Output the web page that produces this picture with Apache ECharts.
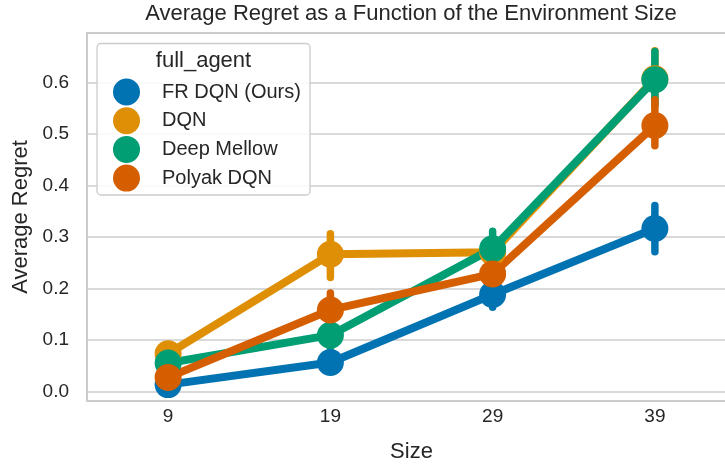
<!DOCTYPE html>
<html>
<head>
<meta charset="utf-8">
<script src="https://cdn.jsdelivr.net/npm/echarts@6/dist/echarts.min.js"></script>
<style>
  html, body { margin: 0; padding: 0; background: #ffffff; overflow: hidden; width: 725px; height: 468px; }
  #chart { width: 745px; height: 468px; }
</style>
</head>
<body>
<div id="chart"></div>
<script>
// ---- data ----
const categories = ['9', '19', '29', '39'];
const agents = ['FR DQN (Ours)', 'DQN', 'Deep Mellow', 'Polyak DQN'];
const legendTitle = 'full_agent';

const frDqnMean  = [0.013, 0.056, 0.188, 0.316];
const frDqnLow   = [0.008, 0.050, 0.163, 0.271];
const frDqnHigh  = [0.019, 0.062, 0.210, 0.361];

const dqnMean    = [0.073, 0.266, 0.270, 0.607];
const dqnLow     = [0.066, 0.221, 0.250, 0.555];
const dqnHigh    = [0.080, 0.306, 0.288, 0.661];

const mellowMean = [0.055, 0.109, 0.277, 0.605];
const mellowLow  = [0.048, 0.076, 0.243, 0.556];
const mellowHigh = [0.062, 0.143, 0.311, 0.660];

const polyakMean = [0.027, 0.158, 0.228, 0.516];
const polyakLow  = [0.020, 0.125, 0.210, 0.477];
const polyakHigh = [0.034, 0.191, 0.247, 0.566];

const yMin = -0.0188;
const yMax = 0.6957;

// ---- styling ----
const colors = ['#0173b2', '#de8f05', '#029e73', '#d55e00'];
const FONT = '"Liberation Sans", Arial, Helvetica, sans-serif';
const TEXT = '#262626';
const GRIDC = '#cccccc';

const means = [frDqnMean, dqnMean, mellowMean, polyakMean];
const lows = [frDqnLow, dqnLow, mellowLow, polyakLow];
const highs = [frDqnHigh, dqnHigh, mellowHigh, polyakHigh];

const series = [];
agents.forEach((name, j) => {
  series.push({
    name: name,
    type: 'line',
    data: means[j],
    symbol: 'none',
    lineStyle: { color: colors[j], width: 8, cap: 'round', join: 'round' },
    itemStyle: { color: colors[j] },
    z: 2,
    silent: true
  });
});
agents.forEach((name, j) => {
  const color = colors[j];
  series.push({
    name: name,
    type: 'custom',
    data: categories.map((c, i) => [i, lows[j][i], highs[j][i]]),
    encode: { x: 0, y: [1, 2] },
    renderItem: function (params, api) {
      const p1 = api.coord([api.value(0), api.value(1)]);
      const p2 = api.coord([api.value(0), api.value(2)]);
      return {
        type: 'line',
        shape: { x1: p1[0], y1: p1[1], x2: p2[0], y2: p2[1] },
        style: { stroke: color, lineWidth: 7.5, lineCap: 'round' }
      };
    },
    z: 3,
    silent: true
  });
  series.push({
    name: name,
    type: 'scatter',
    data: means[j],
    symbol: 'circle',
    symbolSize: 27,
    itemStyle: { color: color, opacity: 1 },
    z: 3,
    silent: true
  });
});

const chart = echarts.init(document.getElementById('chart'), null, { renderer: 'canvas' });
chart.setOption({
  animation: false,
  backgroundColor: '#ffffff',
  color: colors,
  title: {
    text: 'Average Regret as a Function of the Environment Size',
    left: 411,
    top: 3,
    textAlign: 'center',
    padding: 0,
    textStyle: { fontFamily: FONT, fontSize: 22, fontWeight: 'normal', color: TEXT }
  },
  grid: {
    left: 87, right: 9, top: 33, bottom: 66,
    show: true, borderColor: GRIDC, borderWidth: 2, backgroundColor: 'transparent'
  },
  legend: {
    data: agents,
    orient: 'vertical',
    left: 113,
    top: 78.5,
    padding: 0,
    itemWidth: 27,
    itemHeight: 27,
    itemGap: 1.7,
    icon: 'circle',
    selectedMode: false,
    textStyle: { fontFamily: FONT, fontSize: 20, color: TEXT, padding: [0, 0, 0, 17] },
    z: 6
  },
  graphic: [
    {
      type: 'rect',
      z: 5,
      shape: { x: 97, y: 43.5, width: 213, height: 151.5, r: 4 },
      style: { fill: 'rgba(255,255,255,0.85)', stroke: GRIDC, lineWidth: 1.3 }
    },
    {
      type: 'text',
      z: 7,
      x: 203.5,
      y: 61,
      style: {
        text: legendTitle,
        font: '22px ' + FONT,
        fill: TEXT,
        textAlign: 'center',
        textVerticalAlign: 'middle'
      }
    }
  ],
  xAxis: {
    type: 'category',
    data: categories,
    boundaryGap: true,
    name: 'Size',
    nameLocation: 'middle',
    nameGap: 40,
    nameTextStyle: { fontFamily: FONT, fontSize: 22, color: TEXT },
    axisLine: { show: false },
    axisTick: { show: false },
    axisLabel: { fontFamily: FONT, fontSize: 19, color: TEXT, margin: 6 },
    splitLine: { show: false }
  },
  yAxis: {
    type: 'value',
    min: yMin,
    max: yMax,
    splitNumber: 7,
    name: 'Average Regret',
    nameLocation: 'middle',
    nameGap: 50,
    nameTextStyle: { fontFamily: FONT, fontSize: 22, color: TEXT },
    axisLine: { show: false },
    axisTick: { show: false },
    axisLabel: {
      fontFamily: FONT, fontSize: 19, color: TEXT, margin: 18,
      showMinLabel: false, showMaxLabel: false,
      formatter: function (v) {
        const k = v * 10;
        return Math.abs(k - Math.round(k)) < 1e-6 ? v.toFixed(1) : '';
      }
    },
    splitLine: { show: true, lineStyle: { color: GRIDC, width: 1.7 } }
  },
  series: series
});
</script>
</body>
</html>
